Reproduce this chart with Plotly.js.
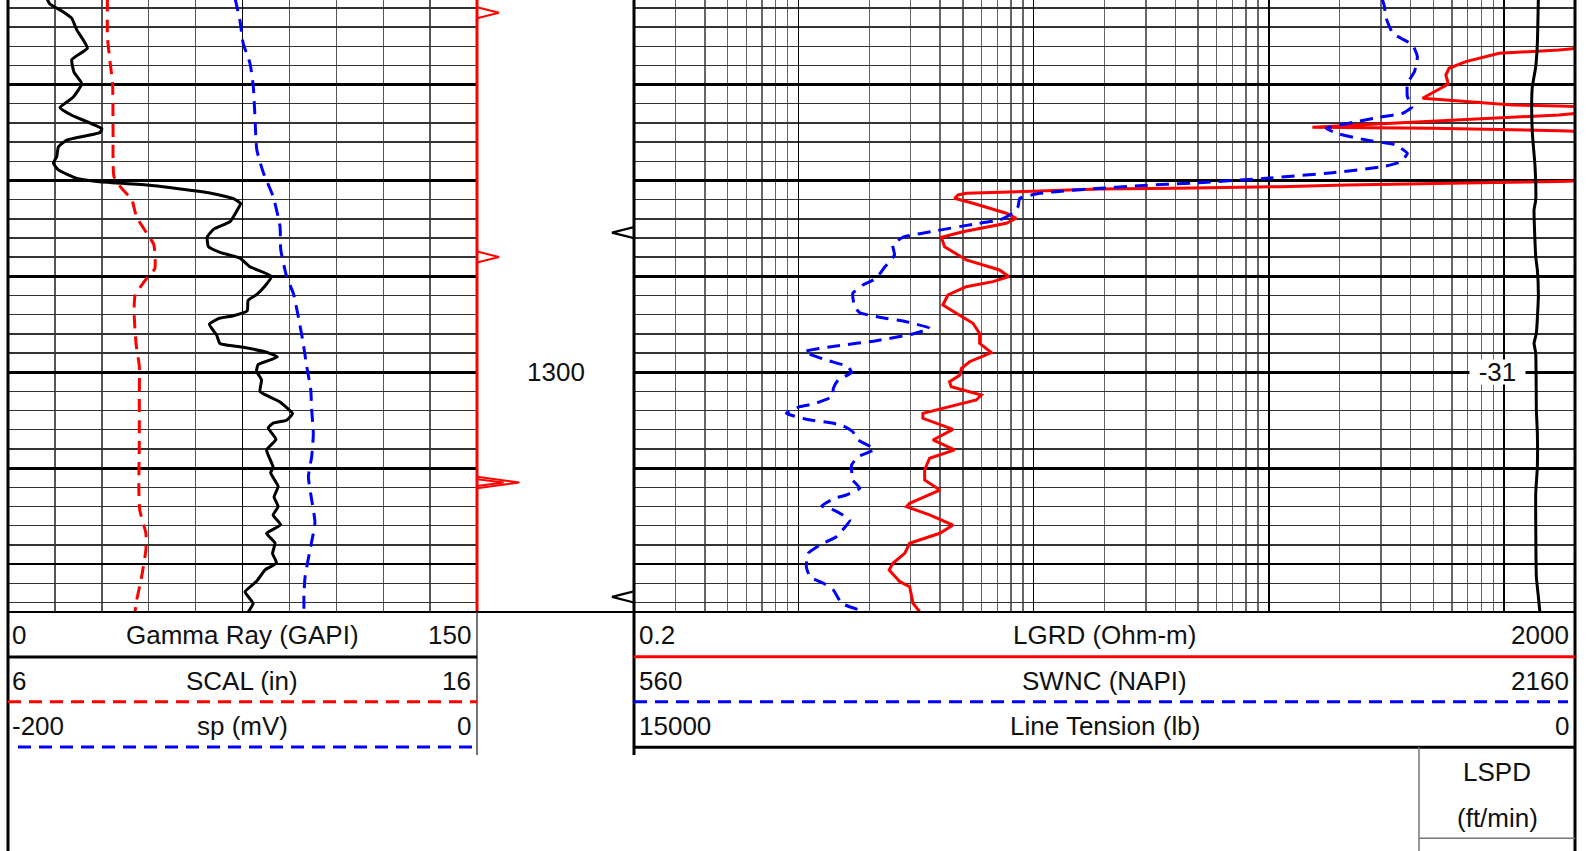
<!DOCTYPE html>
<html>
<head>
<meta charset="utf-8">
<script src="https://cdn.plot.ly/plotly-3.0.1.min.js"></script>
<style>html,body{margin:0;padding:0;background:#fff;}#chart{width:1592px;height:851px;}</style>
</head>
<body>
<div id="chart"></div>
<script>
// ---------------- DATA ----------------
// Track 1 (linear): Gamma Ray (GAPI), SCAL (in), sp (mV)
const gammaDepth = [1261.0,1261.6,1262.4,1263.1,1264.3,1266.2,1267.4,1268.7,1269.9,1271.3,1272.4,1273.2,1274.6,1275.0,1275.8,1276.5,1277.5,1278.2,1278.9,1279.8,1280.1,1280.5,1281.3,1281.9,1282.4,1283.1,1284.3,1285.1,1285.9,1286.9,1287.5,1288.1,1289.0,1290.0,1291.0,1291.9,1292.5,1293.6,1294.1,1294.4,1295.0,1296.1,1297.0,1297.4,1297.9,1298.4,1299.2,1299.9,1300.8,1302.0,1303.1,1304.3,1305.0,1305.3,1305.8,1307.0,1308.1,1309.9,1310.5,1311.9,1313.0,1314.0,1314.9,1315.9,1316.8,1317.8,1318.9,1319.9,1320.6,1321.8,1322.9,1324.1,1325.0];
const gammaValues = [12.4,13.4,17.6,20.4,22.0,25.4,20.4,21.1,23.6,20.9,16.6,20.4,30.0,29.4,18.8,16.1,15.6,14.5,16.1,22.0,28.4,45.4,64.6,72.1,74.4,73.3,71.0,65.7,63.7,64.1,67.8,74.2,77.4,84.3,82.2,79.5,76.8,76.5,72.1,67.3,64.4,66.7,67.8,75.2,82.7,86.1,80.0,79.5,81.1,80.6,87.0,91.0,89.1,84.8,83.2,85.7,82.7,84.8,84.0,86.4,85.1,86.4,84.8,87.2,82.7,85.4,84.6,85.9,82.2,79.5,75.8,78.4,76.8];

const scalDepth = [1261.0,1265.0,1267.4,1269.9,1275.1,1279.6,1280.8,1282.0,1283.8,1285.5,1286.7,1289.2,1290.0,1292.0,1293.9,1297.0,1299.4,1302.5,1307.1,1312.3,1314.4,1316.8,1318.5,1321.3,1324.1,1325.0];
const scalValues = [8.12,8.12,8.17,8.23,8.24,8.26,8.42,8.64,8.74,8.96,9.11,9.13,8.99,8.71,8.69,8.73,8.80,8.80,8.80,8.79,8.81,8.94,8.94,8.85,8.73,8.71];

const spDepth = [1261.0,1263.3,1265.7,1267.8,1270.2,1273.3,1276.8,1279.2,1281.7,1284.8,1287.2,1290.0,1291.8,1294.2,1297.0,1299.4,1301.8,1303.9,1306.4,1308.8,1310.9,1313.3,1315.7,1318.5,1321.3,1323.2,1325.0];
const spValues = [-103.2,-101.1,-99.7,-96.8,-95.4,-94.7,-93.9,-91.1,-86.9,-84.0,-83.7,-81.2,-78.3,-76.2,-74.1,-72.6,-70.9,-70.5,-69.8,-70.5,-71.9,-70.5,-69.1,-71.2,-73.3,-73.8,-73.8];

// Track 2 (log 0.2-2000): LGRD (Ohm-m); values above 2000 are off scale
const lgrdDepth = [1261.0,1266.19,1266.39,1266.74,1267.61,1268.30,1269.00,1269.94,1271.43,1272.13,1272.23,1272.29,1272.65,1272.96,1273.17,1274.45,1274.56,1274.81,1274.89,1276.82,1280.05,1280.11,1280.19,1280.29,1280.47,1280.65,1280.75,1280.82,1280.89,1281.17,1281.34,1281.51,1281.86,1282.38,1283.42,1283.94,1284.47,1285.34,1285.92,1286.91,1288.29,1289.33,1290.03,1290.55,1291.08,1291.94,1292.98,1293.85,1294.89,1295.94,1296.98,1297.96,1298.90,1299.59,1300.28,1300.98,1301.50,1302.37,1302.89,1304.28,1304.80,1305.95,1307.06,1308.10,1308.97,1310.19,1311.23,1312.28,1313.66,1314.02,1314.88,1315.93,1316.79,1317.83,1318.88,1319.92,1320.62,1321.84,1322.36,1323.22,1324.09,1325.0];
const lgrdValues = [3000,2100,1710,951,687,583,565,579,450,1084,1710,2100,3000,2100,1710,153,494,1710,2100,3000,2100,1710,1070,480,212,112,67.9,40.3,19.0,8.71,5.17,4.77,4.61,5.52,7.65,8.43,7.65,5.0,4.05,4.18,5.17,7.16,7.85,6.71,5.17,4.32,4.11,4.69,5.52,5.89,5.89,6.61,5.34,4.93,4.86,4.39,4.46,5.99,5.70,3.38,3.38,4.54,3.73,4.61,3.61,3.44,3.44,3.99,2.97,2.88,3.61,4.54,3.99,2.97,2.83,2.52,2.43,2.70,2.97,3.02,3.07,3.28];

// SWNC (NAPI), linear 560-2160 across track 2
const swncDepth = [1261.0,1261.88,1262.92,1264.65,1265.17,1265.87,1267.09,1268.66,1269.87,1271.26,1272.31,1272.99,1273.41,1273.87,1274.56,1275.15,1275.78,1276.30,1277.17,1278.04,1278.56,1279.19,1279.77,1280.23,1280.58,1280.82,1281.07,1281.34,1281.86,1282.73,1283.42,1284.12,1284.57,1285.24,1285.92,1286.73,1287.77,1289.05,1290.20,1290.90,1291.76,1293.16,1293.79,1294.27,1294.73,1295.41,1296.01,1296.71,1297.26,1297.85,1298.72,1299.42,1300.04,1300.81,1301.67,1302.55,1303.31,1303.59,1304.28,1304.90,1305.32,1305.60,1306.20,1307.06,1308.03,1308.80,1309.67,1311.23,1312.10,1312.80,1313.14,1313.94,1314.36,1315.40,1317.15,1318.01,1318.88,1320.27,1321.32,1322.00,1322.70,1324.09,1325.0];
const swncValues = [1832,1836,1838,1850,1864,1884,1892,1887,1875,1875,1883,1867,1827,1788,1737,1759,1805,1855,1875,1864,1833,1748,1635,1521,1408,1352,1295,1250,1216,1213,1204,1182,1136,1074,1017,1000,1003,986,972,949,932,935,944,978,1023,1063,1034,972,904,850,887,924,930,907,899,897,865,842,819,853,899,916,932,941,969,941,930,932,944,921,901,879,899,927,904,876,856,853,859,882,899,913,954];

// Line Tension (lb), 15000 (left) to 0 (right)
const tensionDepth = [1261.0,1265.70,1268.14,1270.22,1271.61,1275.05,1278.56,1282.04,1283.08,1287.95,1289.33,1292.12,1295.94,1296.98,1298.02,1303.93,1306.36,1309.85,1312.62,1321.32,1323.40,1325.0];
const tensionValues = [584,600,626,680,690,680,637,626,653,626,600,584,616,653,626,616,600,600,626,616,584,560];

// Depth-track flags
const redFlagDepths = [1262.51, 1287.98, 1311.5, 1311.5];
const redFlagLengths = [0.14, 0.14, 0.27, 0.17];
const redFlagHalf = [0.57, 0.57, 0.6, 0.35];
const blackFlagDepths = [1285.44, 1323.43];
const blackFlagLengths = [0.14, 0.14];
const blackFlagHalf = [0.58, 0.58];

const depthLabels = [1300];
const lspdLabelDepth = 1300;
const lspdLabelText = "-31";

// Header labels: [left value, name, right value]
const leftHeader = [["0","Gamma Ray (GAPI)","150"],["6","SCAL (in)","16"],["-200","sp (mV)","0"]];
const rightHeader = [["0.2","LGRD (Ohm-m)","2000"],["560","SWNC (NAPI)","2160"],["15000","Line Tension (lb)","0"]];
const lspdHeader = ["LSPD","(ft/min)"];

// ---------------- LAYOUT ----------------
const W = 1592, H = 851;
const px = x => x / W;
const py = y => 1 - y / H;
const FONT = "Liberation Sans, Arial, sans-serif";
const FS = 26;
const dashPat = "13px,8px";
const LW = 3;

const traces = [
  {x: gammaValues, y: gammaDepth, xaxis: 'x', yaxis: 'y', mode: 'lines', line: {color: '#000', width: LW, shape: 'spline', smoothing: 0.4}},
  {x: scalValues, y: scalDepth, xaxis: 'x3', yaxis: 'y', mode: 'lines', line: {color: '#ff0000', width: LW, dash: dashPat, shape: 'spline', smoothing: 0.5}},
  {x: spValues, y: spDepth, xaxis: 'x4', yaxis: 'y', mode: 'lines', line: {color: '#0000ff', width: LW, dash: dashPat, shape: 'spline', smoothing: 0.5}},
  {x: lgrdValues, y: lgrdDepth, xaxis: 'x2', yaxis: 'y', mode: 'lines', line: {color: '#ff0000', width: LW}},
  {x: swncValues, y: swncDepth, xaxis: 'x5', yaxis: 'y', mode: 'lines', line: {color: '#0000ff', width: LW, dash: dashPat, shape: 'spline', smoothing: 0.4}},
  {x: tensionValues, y: tensionDepth, xaxis: 'x6', yaxis: 'y', mode: 'lines', line: {color: '#000', width: LW, shape: 'spline', smoothing: 0.4}}
];

redFlagDepths.forEach((d, i) => {
  traces.push({x: [0, redFlagLengths[i], 0], y: [d - redFlagHalf[i], d, d + redFlagHalf[i]],
    xaxis: 'x7', yaxis: 'y2', mode: 'lines', line: {color: '#ff0000', width: 2}});
});
blackFlagDepths.forEach((d, i) => {
  traces.push({x: [1, 1 - blackFlagLengths[i], 1], y: [d - blackFlagHalf[i], d, d + blackFlagHalf[i]],
    xaxis: 'x7', yaxis: 'y2', mode: 'lines', line: {color: '#000', width: 2.2}});
});

const hid = {showticklabels: false, ticks: '', showgrid: false, zeroline: false, showline: false};

const layout = {
  width: W, height: H,
  margin: {l: 0, r: 0, t: 0, b: 0, pad: 0},
  paper_bgcolor: '#fff', plot_bgcolor: '#fff',
  showlegend: false, hovermode: false,
  font: {family: FONT, size: FS, color: '#111'},
  xaxis: Object.assign({}, hid, {domain: [px(8), px(477)], range: [0, 150], anchor: 'y',
    showgrid: true, tick0: 0, dtick: 75, gridcolor: '#000', gridwidth: 1.8,
    minor: {tick0: 0, dtick: 15, showgrid: true, gridcolor: '#555', gridwidth: 1.4}}),
  xaxis3: Object.assign({}, hid, {overlaying: 'x', range: [6, 16], anchor: 'y'}),
  xaxis4: Object.assign({}, hid, {overlaying: 'x', range: [-200, 0], anchor: 'y'}),
  xaxis2: Object.assign({}, hid, {domain: [px(634), px(1575)], type: 'log',
    range: [Math.log10(0.2), Math.log10(2000)], anchor: 'y',
    showgrid: true, dtick: 1, gridcolor: '#000', gridwidth: 1.4,
    minor: {dtick: 'D1', showgrid: true, gridcolor: '#666', gridwidth: 1.4}}),
  xaxis5: Object.assign({}, hid, {overlaying: 'x2', range: [560, 2160], anchor: 'y'}),
  xaxis6: Object.assign({}, hid, {overlaying: 'x2', range: [15000, 0], anchor: 'y'}),
  xaxis7: Object.assign({}, hid, {domain: [px(477), px(634)], range: [0, 1], anchor: 'y2'}),
  yaxis: Object.assign({}, hid, {domain: [py(612), 1], range: [1325.0, 1261.18],
    showgrid: true, tick0: 1300, dtick: 10, gridcolor: '#000', gridwidth: 2.8,
    minor: {tick0: 1300, dtick: 2, showgrid: true, gridcolor: '#333', gridwidth: 1.4}}),
  yaxis2: Object.assign({}, hid, {domain: [py(612), 1], matches: 'y', anchor: 'x7'}),
  shapes: [], annotations: []
};

function hline(x0, x1, y, color, width, dash) {
  layout.shapes.push({type: 'line', xref: 'paper', yref: 'paper', x0: px(x0), x1: px(x1), y0: py(y), y1: py(y),
    line: {color: color, width: width, dash: dash || 'solid'}});
}
function vline(x, y0, y1, color, width) {
  layout.shapes.push({type: 'line', xref: 'paper', yref: 'paper', x0: px(x), x1: px(x), y0: py(y0), y1: py(y1),
    line: {color: color, width: width}});
}

// borders
vline(8, 0, 851, '#000', 3);
vline(477, 0, 612, '#ff0000', 3);
vline(634, 0, 755, '#000', 3);
vline(1575, 0, 851, '#000', 3);
hline(8, 1575, 612, '#000', 2);
vline(477, 612, 755, '#444', 1.5);
// left header separators
hline(8, 477, 657, '#000', 3);
hline(8, 477, 701.7, '#ff0000', 3, dashPat);
hline(18, 477, 747, '#0000ff', 3, dashPat);
// right header separators
hline(634, 1575, 656.7, '#ff0000', 3);
hline(634, 1568, 701.7, '#0000ff', 3, dashPat);
hline(634, 1575, 747.3, '#000', 3);
// LSPD box
vline(1419, 747, 851, '#777', 1.5);
hline(1419, 1575, 838.3, '#777', 1.5);

function txt(x, y, t, anchor) {
  layout.annotations.push({xref: 'paper', yref: 'paper', x: px(x), y: py(y), text: t, showarrow: false,
    xanchor: anchor, yanchor: 'middle', font: {family: FONT, size: FS, color: '#111'}, borderpad: 0});
}
const rowY = [635, 680.7, 726];
leftHeader.forEach((r, i) => { txt(11, rowY[i], r[0], 'left'); txt(242.5, rowY[i], r[1], 'center'); txt(472, rowY[i], r[2], 'right'); });
rightHeader.forEach((r, i) => { txt(638, rowY[i], r[0], 'left'); txt(1104.5, rowY[i], r[1], 'center'); txt(1570, rowY[i], r[2], 'right'); });
txt(1497, 771.7, lspdHeader[0], 'center');
txt(1497, 818, lspdHeader[1], 'center');

depthLabels.forEach(d => {
  layout.annotations.push({xref: 'paper', yref: 'y', x: px(555.5), y: d, text: String(d), showarrow: false,
    xanchor: 'center', yanchor: 'middle', font: {family: FONT, size: FS, color: '#111'}});
});
layout.annotations.push({xref: 'paper', yref: 'y', x: px(1497), y: lspdLabelDepth, text: lspdLabelText, showarrow: false,
  xanchor: 'center', yanchor: 'middle', bgcolor: '#fff', width: 55, height: 24, borderpad: 0,
  font: {family: FONT, size: FS, color: '#111'}});

Plotly.newPlot('chart', traces, layout, {staticPlot: true, displayModeBar: false});
</script>
</body>
</html>
